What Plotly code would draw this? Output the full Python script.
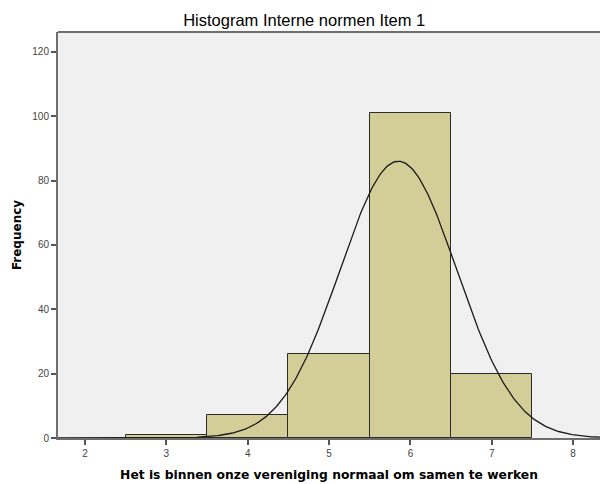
import numpy as np
import plotly.graph_objects as go

categories = [3, 4, 5, 6, 7]
frequencies = [1, 7, 26, 101, 20]
x_ticks = [2, 3, 4, 5, 6, 7, 8]
y_ticks = [0, 20, 40, 60, 80, 100, 120]

# Normal curve fitted to the histogram data (as SPSS does)
cats = np.array(categories, dtype=float)
freq = np.array(frequencies, dtype=float)
n = freq.sum()
mean = (cats * freq).sum() / n
sd = np.sqrt(((cats - mean) ** 2 * freq).sum() / (n - 1))
xs = np.linspace(1.6, 8.4, 400)
ys = n * 1.0 / (sd * np.sqrt(2 * np.pi)) * np.exp(-0.5 * ((xs - mean) / sd) ** 2)

fig = go.Figure()
fig.add_trace(go.Bar(
    x=categories, y=frequencies, width=1,
    marker=dict(color="#D3CE98", line=dict(color="#2b2b2b", width=1)),
    hoverinfo="x+y",
))
fig.add_trace(go.Scatter(
    x=xs, y=ys, mode="lines",
    line=dict(color="#1a1a1a", width=1.3),
    hoverinfo="skip",
))

fig.update_layout(
    width=600, height=484,
    margin=dict(l=58, r=0, t=32, b=46),
    paper_bgcolor="white",
    plot_bgcolor="#F0F0F0",
    showlegend=False,
    bargap=0,
    font=dict(family="Liberation Sans, Arial, sans-serif", color="#000"),
    title=dict(
        text="Histogram Interne normen Item 1",
        x=0.507, xanchor="center", y=0.958, yanchor="middle",
        font=dict(size=16.5, color="#000"),
    ),
    xaxis=dict(
        range=[1.668, 8.33],
        tickvals=x_ticks,
        ticks="outside", ticklen=5, tickcolor="#555", tickwidth=2,
        tickfont=dict(size=10, color="#444"),
        showgrid=False, zeroline=False,
        showline=True, linecolor="#6e6e6e", linewidth=2,
        automargin=False,
        title=dict(text="<b>Het is binnen onze vereniging normaal om samen te werken</b>",
                   font=dict(family="DejaVu Sans", size=12.3, color="#000"), standoff=12),
    ),
    yaxis=dict(
        range=[0, 126.2],
        tickvals=y_ticks,
        ticks="outside", ticklen=5, tickcolor="#555", tickwidth=2,
        tickfont=dict(size=10, color="#444"),
        showgrid=False, zeroline=False,
        showline=True, linecolor="#6e6e6e", linewidth=2,
        automargin=False,
        title=dict(text="<b>Frequency</b>", font=dict(family="DejaVu Sans", size=12, color="#000"), standoff=8),
    ),
    shapes=[dict(type="line", xref="paper", yref="paper", x0=0, x1=1, y0=1, y1=1,
                 line=dict(color="#6e6e6e", width=2))],
)

fig.write_html(
    "out.html",
    config={"displayModeBar": False},
    post_script="document.body.style.margin='0';document.body.style.overflow='hidden';",
)
